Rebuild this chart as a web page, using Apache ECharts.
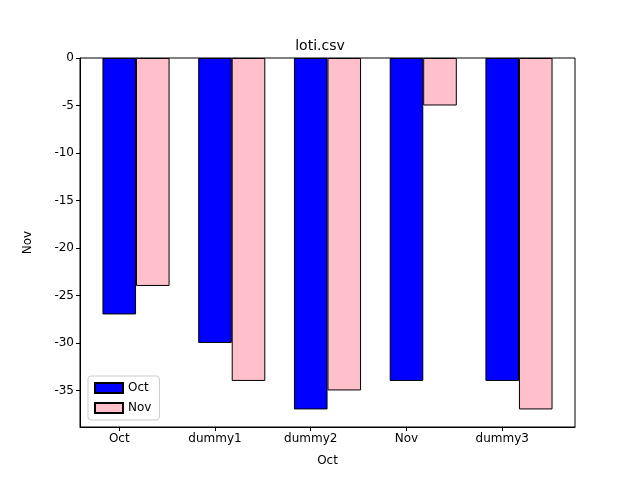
<!DOCTYPE html>
<html>
<head>
<meta charset="utf-8">
<script src="https://cdn.jsdelivr.net/npm/echarts@6/dist/echarts.min.js"></script>
<style>html,body{margin:0;padding:0;background:#fff}#c{width:640px;height:480px}</style>
</head>
<body>
<div id="c"></div>
<script>
const categories = ['Oct', 'dummy1', 'dummy2', 'Nov', 'dummy3'];
const octValues = [-27, -30, -37, -34, -34];
const novValues = [-24, -34, -35, -5, -37];
const barOffset = 0.35;

const chart = echarts.init(document.getElementById('c'));
const font = 'DejaVu Sans';
chart.setOption({
    animation: false,
    title: {
        text: 'loti.csv', left: 'center', top: 34,
        textStyle: { fontFamily: font, fontSize: 14, fontWeight: 'normal', color: '#000' }
    },
    legend: {
        left: 88, top: 376, orient: 'vertical', itemWidth: 28, itemHeight: 10, itemGap: 8,
        padding: [6, 8, 6, 6], icon: 'rect',
        borderColor: '#ccc', borderWidth: 1, borderRadius: 3, backgroundColor: 'rgba(255,255,255,0.8)',
        textStyle: { fontFamily: font, fontSize: 12, color: '#000' },
        data: ['Oct', 'Nov']
    },
    grid: { left: 80, right: 65, top: 58, bottom: 53, show: true, borderColor: '#000', borderWidth: 1 },
    xAxis: {
        type: 'value', min: -0.41, max: 4.76, minInterval: 1, maxInterval: 1,
        name: 'Oct', nameLocation: 'middle', nameGap: 28,
        nameTextStyle: { fontFamily: font, fontSize: 12, color: '#000' },
        splitLine: { show: false },
        axisLine: { show: true, onZero: false, lineStyle: { color: '#000' } },
        axisTick: { show: true, length: 4, lineStyle: { color: '#000' } },
        axisLabel: {
            fontFamily: font, fontSize: 12, color: '#000', margin: 6,
            showMinLabel: false, showMaxLabel: false,
            formatter: v => categories[Math.round(v)] || ''
        }
    },
    yAxis: {
        type: 'value', min: -38.85, max: 0, minInterval: 5, maxInterval: 5,
        name: 'Nov', nameLocation: 'middle', nameGap: 46, nameRotate: 90,
        nameTextStyle: { fontFamily: font, fontSize: 12, color: '#000' },
        splitLine: { show: false },
        axisLine: { show: true, onZero: false, lineStyle: { color: '#000' } },
        axisTick: { show: true, length: 4, lineStyle: { color: '#000' } },
        axisLabel: { fontFamily: font, fontSize: 12, color: '#000', margin: 6, showMinLabel: false }
    },
    series: [
        {
            name: 'Oct', type: 'bar', barWidth: 33.6, barGap: '-100%',
            itemStyle: { color: '#0000ff', borderColor: '#000', borderWidth: 1 },
            data: octValues.map((v, i) => [i, v])
        },
        {
            name: 'Nov', type: 'bar', barWidth: 33.6, barGap: '-100%',
            itemStyle: { color: '#ffc0cb', borderColor: '#000', borderWidth: 1 },
            data: novValues.map((v, i) => [i + barOffset, v])
        }
    ]
});
</script>
</body>
</html>
